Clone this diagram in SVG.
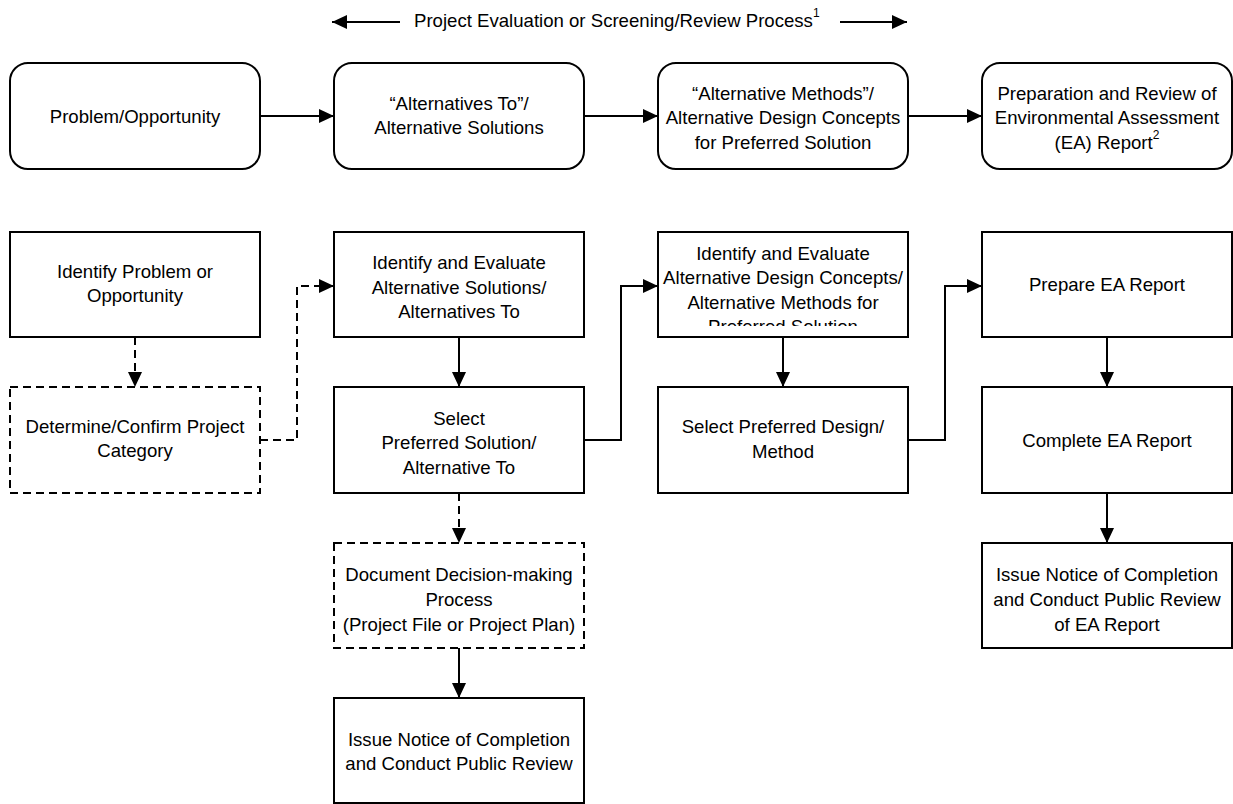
<svg xmlns="http://www.w3.org/2000/svg" width="1233" height="804" viewBox="0 0 1233 804">
  <style>
    .box { fill: #ffffff; stroke: #000000; stroke-width: 2; }
    .dbox { fill: #ffffff; stroke: #000000; stroke-width: 2; stroke-dasharray: 8 5; }
    .lbl { font-family: "Liberation Sans", Arial, sans-serif; font-size: 18.6px; fill: #000000; text-anchor: middle; }
    .hdr { font-family: "Liberation Sans", Arial, sans-serif; font-size: 18.6px; fill: #000000; }
    .sup { font-size: 12px; }
    .conn { fill: none; stroke: #000000; stroke-width: 2; }
    .dconn { fill: none; stroke: #000000; stroke-width: 2; stroke-dasharray: 8 5; }
  </style>
  <defs>
    <marker id="arrow" viewBox="0 0 15 14" refX="15" refY="7" markerWidth="15" markerHeight="14" markerUnits="userSpaceOnUse" orient="auto">
      <path d="M0,0 L15,7 L0,14 Z" fill="#000000"/>
    </marker>
    <clipPath id="clipDesign">
      <rect x="658" y="232" width="250" height="94"/>
    </clipPath>
  </defs>

  <rect width="1233" height="804" fill="#ffffff"/>

  <g id="header">
    <text class="hdr" x="414" y="27">Project Evaluation or Screening/Review Process<tspan class="sup" dy="-10">1</tspan></text>
  </g>

  <g id="connectors">
    <line class="conn" x1="400" y1="22" x2="332" y2="22" marker-end="url(#arrow)"/>
    <line class="conn" x1="840" y1="22" x2="907" y2="22" marker-end="url(#arrow)"/>
    <line class="conn" x1="260" y1="116" x2="334" y2="116" marker-end="url(#arrow)"/>
    <line class="conn" x1="584" y1="116" x2="658" y2="116" marker-end="url(#arrow)"/>
    <line class="conn" x1="908" y1="116" x2="982" y2="116" marker-end="url(#arrow)"/>
    <line class="dconn" x1="135" y1="337" x2="135" y2="387" marker-end="url(#arrow)"/>
    <polyline class="dconn" points="260,440 297,440 297,286 334,286" marker-end="url(#arrow)"/>
    <line class="conn" x1="459" y1="337" x2="459" y2="387" marker-end="url(#arrow)"/>
    <polyline class="conn" points="584,440 621,440 621,286 658,286" marker-end="url(#arrow)"/>
    <line class="conn" x1="783" y1="337" x2="783" y2="387" marker-end="url(#arrow)"/>
    <polyline class="conn" points="908,440 945,440 945,286 982,286" marker-end="url(#arrow)"/>
    <line class="conn" x1="1107" y1="337" x2="1107" y2="387" marker-end="url(#arrow)"/>
    <line class="conn" x1="1107" y1="493" x2="1107" y2="543" marker-end="url(#arrow)"/>
    <line class="dconn" x1="459" y1="493" x2="459" y2="543" marker-end="url(#arrow)"/>
    <line class="conn" x1="459" y1="648" x2="459" y2="698" marker-end="url(#arrow)"/>
  </g>

  <g id="problem-opportunity">
    <rect class="box" x="10" y="63" width="250" height="106" rx="18"/>
    <text class="lbl" x="135" y="123">Problem/Opportunity</text>
  </g>
  <g id="alternatives-to">
    <rect class="box" x="334" y="63" width="250" height="106" rx="18"/>
    <text class="lbl" x="459" y="109.5">“Alternatives To”/</text>
    <text class="lbl" x="459" y="134">Alternative Solutions</text>
  </g>
  <g id="alternative-methods">
    <rect class="box" x="658" y="63" width="250" height="106" rx="18"/>
    <text class="lbl" x="783" y="99.5">“Alternative Methods”/</text>
    <text class="lbl" x="783" y="124">Alternative Design Concepts</text>
    <text class="lbl" x="783" y="148.5">for Preferred Solution</text>
  </g>
  <g id="ea-report-top">
    <rect class="box" x="982" y="63" width="250" height="106" rx="18"/>
    <text class="lbl" x="1107" y="99.5">Preparation and Review of</text>
    <text class="lbl" x="1107" y="124">Environmental Assessment</text>
    <text class="lbl" x="1107" y="148.5">(EA) Report<tspan class="sup" dy="-10">2</tspan></text>
  </g>

  <g id="identify-problem">
    <rect class="box" x="10" y="232" width="250" height="105"/>
    <text class="lbl" x="135" y="278">Identify Problem or</text>
    <text class="lbl" x="135" y="302">Opportunity</text>
  </g>
  <g id="determine-category">
    <rect class="dbox" x="10" y="387" width="250" height="106"/>
    <text class="lbl" x="135" y="433">Determine/Confirm Project</text>
    <text class="lbl" x="135" y="457">Category</text>
  </g>
  <g id="identify-solutions">
    <rect class="box" x="334" y="232" width="250" height="105"/>
    <text class="lbl" x="459" y="269">Identify and Evaluate</text>
    <text class="lbl" x="459" y="293.5">Alternative Solutions/</text>
    <text class="lbl" x="459" y="318">Alternatives To</text>
  </g>
  <g id="select-solution">
    <rect class="box" x="334" y="387" width="250" height="106"/>
    <text class="lbl" x="459" y="424.5">Select</text>
    <text class="lbl" x="459" y="449">Preferred Solution/</text>
    <text class="lbl" x="459" y="473.5">Alternative To</text>
  </g>
  <g id="document-process">
    <rect class="dbox" x="334" y="543" width="250" height="105"/>
    <text class="lbl" x="459" y="581">Document Decision-making</text>
    <text class="lbl" x="459" y="606">Process</text>
    <text class="lbl" x="459" y="630.5">(Project File or Project Plan)</text>
  </g>
  <g id="issue-notice">
    <rect class="box" x="334" y="698" width="250" height="105"/>
    <text class="lbl" x="459" y="746">Issue Notice of Completion</text>
    <text class="lbl" x="459" y="770">and Conduct Public Review</text>
  </g>
  <g id="identify-design">
    <rect class="box" x="658" y="232" width="250" height="105"/>
    <g clip-path="url(#clipDesign)">
      <text class="lbl" x="783" y="260">Identify and Evaluate</text>
      <text class="lbl" x="783" y="284">Alternative Design Concepts/</text>
      <text class="lbl" x="783" y="308.5">Alternative Methods for</text>
      <text class="lbl" x="783" y="333">Preferred Solution</text>
    </g>
  </g>
  <g id="select-design">
    <rect class="box" x="658" y="387" width="250" height="106"/>
    <text class="lbl" x="783" y="433">Select Preferred Design/</text>
    <text class="lbl" x="783" y="457.5">Method</text>
  </g>
  <g id="prepare-ea">
    <rect class="box" x="982" y="232" width="250" height="105"/>
    <text class="lbl" x="1107" y="291">Prepare EA Report</text>
  </g>
  <g id="complete-ea">
    <rect class="box" x="982" y="387" width="250" height="106"/>
    <text class="lbl" x="1107" y="447">Complete EA Report</text>
  </g>
  <g id="issue-notice-ea">
    <rect class="box" x="982" y="543" width="250" height="105"/>
    <text class="lbl" x="1107" y="581">Issue Notice of Completion</text>
    <text class="lbl" x="1107" y="605.5">and Conduct Public Review</text>
    <text class="lbl" x="1107" y="630.5">of EA Report</text>
  </g>
</svg>
